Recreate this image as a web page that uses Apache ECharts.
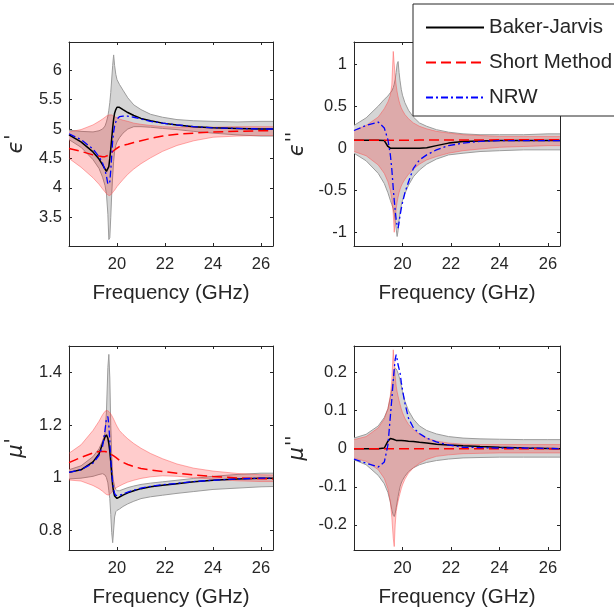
<!DOCTYPE html>
<html>
<head>
<meta charset="utf-8">
<script src="https://cdn.jsdelivr.net/npm/echarts@6/dist/echarts.min.js"></script>
<style>
  html, body { margin: 0; padding: 0; background: #fff; }
  #chart { width: 614px; height: 609px; }
</style>
</head>
<body>
<div id="chart"></div>
<script>
// frequency grid (GHz), shared by every panel
const freq = [18.0, 18.5, 19.0, 19.25, 19.4, 19.5, 19.56, 19.62, 19.66, 19.7, 19.74, 19.78, 19.82, 19.86, 19.9,
  19.95, 20.0, 20.1, 20.25, 20.45, 20.7, 21.0, 21.4, 21.9, 22.5, 23.2, 24.0, 25.0, 26.0, 26.5];

// eps' (top left)
const epsRealBJ   = [4.90, 4.78, 4.61, 4.49, 4.39, 4.32, 4.28, 4.28, 4.36, 4.50, 4.66, 4.84, 5.02, 5.17, 5.27, 5.33, 5.37, 5.37, 5.33, 5.28, 5.23, 5.18, 5.14, 5.10, 5.07, 5.04, 5.02, 5.01, 5.00, 5.00];
const epsRealBJHi = [4.98, 4.96, 4.95, 4.97, 5.00, 5.05, 5.12, 5.22, 5.32, 5.45, 5.62, 5.85, 6.08, 6.26, 6.08, 5.93, 5.84, 5.76, 5.66, 5.53, 5.41, 5.33, 5.25, 5.20, 5.16, 5.14, 5.13, 5.12, 5.13, 5.13];
const epsRealBJLo = [4.82, 4.69, 4.48, 4.33, 4.18, 4.04, 3.90, 3.55, 3.12, 3.15, 3.50, 3.90, 4.20, 4.45, 4.62, 4.72, 4.78, 4.85, 4.93, 5.00, 5.04, 5.04, 5.03, 5.01, 4.99, 4.96, 4.93, 4.90, 4.88, 4.88];
const epsRealSM   = [4.67, 4.62, 4.56, 4.54, 4.53, 4.53, 4.54, 4.55, 4.56, 4.57, 4.59, 4.60, 4.62, 4.63, 4.65, 4.66, 4.68, 4.70, 4.72, 4.74, 4.77, 4.80, 4.84, 4.88, 4.91, 4.93, 4.95, 4.96, 4.97, 4.97];
const epsRealSMHi = [4.95, 4.99, 5.07, 5.13, 5.17, 5.20, 5.22, 5.23, 5.24, 5.24, 5.24, 5.24, 5.23, 5.22, 5.21, 5.20, 5.19, 5.17, 5.15, 5.13, 5.10, 5.08, 5.06, 5.04, 5.03, 5.03, 5.03, 5.04, 5.04, 5.04];
const epsRealSMLo = [4.50, 4.35, 4.17, 4.06, 3.98, 3.93, 3.90, 3.88, 3.87, 3.87, 3.88, 3.90, 3.92, 3.94, 3.96, 3.99, 4.02, 4.07, 4.14, 4.23, 4.32, 4.41, 4.51, 4.62, 4.72, 4.80, 4.86, 4.88, 4.89, 4.89];
const epsRealNRW  = [4.92, 4.82, 4.66, 4.53, 4.42, 4.30, 4.20, 4.06, 4.03, 4.10, 4.30, 4.55, 4.80, 4.95, 5.05, 5.12, 5.17, 5.21, 5.22, 5.22, 5.20, 5.17, 5.13, 5.10, 5.07, 5.04, 5.02, 5.01, 5.00, 5.00];

// eps'' (top right)
const epsImagBJ   = [0.095, 0.095, 0.095, 0.09, 0.02, 0, 0, 0, 0, 0, 0, 0, 0, 0, 0, 0, 0, 0, 0, 0, 0, 0.005, 0.03, 0.06, 0.08, 0.085, 0.09, 0.09, 0.09, 0.09];
const epsImagBJHi = [0.27, 0.36, 0.50, 0.58, 0.62, 0.66, 0.68, 0.72, 0.76, 0.82, 0.90, 1.00, 1.03, 0.90, 0.80, 0.70, 0.63, 0.54, 0.45, 0.37, 0.30, 0.26, 0.22, 0.19, 0.17, 0.16, 0.16, 0.16, 0.17, 0.17];
const epsImagBJLo = [-0.06, -0.15, -0.30, -0.42, -0.53, -0.62, -0.67, -0.72, -0.78, -0.86, -0.96, -1.05, -0.98, -0.86, -0.76, -0.68, -0.62, -0.54, -0.44, -0.34, -0.26, -0.19, -0.13, -0.08, -0.06, -0.04, -0.03, -0.02, -0.02, -0.02];
const epsImagSM   = [0.095, 0.095, 0.095, 0.095, 0.095, 0.095, 0.095, 0.095, 0.095, 0.095, 0.095, 0.095, 0.095, 0.095, 0.095, 0.095, 0.095, 0.095, 0.095, 0.095, 0.096, 0.096, 0.097, 0.097, 0.098, 0.098, 0.099, 0.1, 0.1, 0.1];
const epsImagSMHi = [0.21, 0.27, 0.37, 0.47, 0.55, 0.63, 0.75, 1.15, 1.00, 0.85, 0.75, 0.67, 0.61, 0.56, 0.52, 0.48, 0.45, 0.40, 0.35, 0.30, 0.26, 0.23, 0.20, 0.18, 0.16, 0.15, 0.14, 0.14, 0.14, 0.14];
const epsImagSMLo = [-0.04, -0.09, -0.20, -0.30, -0.40, -0.50, -0.60, -0.78, -1.00, -0.85, -0.72, -0.64, -0.58, -0.53, -0.49, -0.45, -0.42, -0.37, -0.31, -0.25, -0.19, -0.14, -0.10, -0.06, -0.03, -0.01, 0.01, 0.02, 0.03, 0.03];
const epsImagNRW  = [0.21, 0.27, 0.31, 0.24, 0.10, -0.08, -0.25, -0.48, -0.62, -0.74, -0.85, -0.92, -0.95, -0.88, -0.80, -0.72, -0.65, -0.53, -0.40, -0.24, -0.14, -0.08, -0.02, 0.03, 0.06, 0.08, 0.09, 0.09, 0.09, 0.09];

// mu' (bottom left)
const muRealBJ   = [1.02, 1.03, 1.06, 1.09, 1.13, 1.155, 1.163, 1.15, 1.13, 1.10, 1.06, 1.01, 0.97, 0.945, 0.93, 0.924, 0.921, 0.926, 0.933, 0.942, 0.95, 0.958, 0.965, 0.971, 0.977, 0.984, 0.99, 0.995, 0.998, 0.998];
const muRealBJHi = [1.03, 1.045, 1.08, 1.11, 1.14, 1.17, 1.25, 1.42, 1.47, 1.38, 1.20, 1.08, 1.01, 0.985, 0.965, 0.955, 0.95, 0.95, 0.955, 0.962, 0.968, 0.974, 0.979, 0.984, 0.99, 0.997, 1.005, 1.012, 1.017, 1.017];
const muRealBJLo = [0.995, 0.998, 1.005, 1.012, 1.015, 1.01, 1.00, 0.98, 0.95, 0.92, 0.86, 0.79, 0.752, 0.80, 0.85, 0.87, 0.875, 0.88, 0.89, 0.90, 0.91, 0.92, 0.927, 0.933, 0.94, 0.947, 0.955, 0.96, 0.965, 0.966];
const muRealSM   = [1.057, 1.077, 1.094, 1.10, 1.10, 1.10, 1.099, 1.097, 1.095, 1.093, 1.09, 1.088, 1.086, 1.083, 1.08, 1.077, 1.073, 1.066, 1.058, 1.05, 1.042, 1.035, 1.029, 1.023, 1.017, 1.01, 1.004, 0.999, 0.996, 0.995];
const muRealSMHi = [1.093, 1.125, 1.18, 1.215, 1.24, 1.253, 1.256, 1.255, 1.252, 1.248, 1.243, 1.237, 1.23, 1.223, 1.215, 1.205, 1.196, 1.18, 1.165, 1.148, 1.13, 1.112, 1.092, 1.072, 1.052, 1.036, 1.025, 1.016, 1.011, 1.01];
const muRealSMLo = [0.991, 0.987, 0.97, 0.958, 0.948, 0.94, 0.936, 0.934, 0.934, 0.936, 0.94, 0.944, 0.948, 0.952, 0.956, 0.96, 0.963, 0.968, 0.975, 0.983, 0.99, 0.997, 1.003, 1.007, 1.005, 1.00, 0.994, 0.988, 0.985, 0.985];
const muRealNRW  = [1.02, 1.03, 1.055, 1.085, 1.12, 1.18, 1.225, 1.233, 1.20, 1.14, 1.07, 1.02, 0.98, 0.955, 0.94, 0.932, 0.93, 0.932, 0.938, 0.945, 0.952, 0.96, 0.967, 0.973, 0.978, 0.985, 0.99, 0.995, 0.998, 0.998];

// mu'' (bottom right)
const muImagBJ   = [0, 0, 0, 0.002, 0.02, 0.027, 0.027, 0.025, 0.023, 0.022, 0.022, 0.022, 0.022, 0.022, 0.022, 0.022, 0.021, 0.021, 0.02, 0.019, 0.017, 0.015, 0.012, 0.01, 0.008, 0.006, 0.004, 0.002, 0.001, 0];
const muImagBJHi = [0.028, 0.038, 0.06, 0.082, 0.105, 0.135, 0.155, 0.18, 0.205, 0.212, 0.21, 0.205, 0.198, 0.19, 0.18, 0.165, 0.15, 0.125, 0.10, 0.078, 0.06, 0.048, 0.039, 0.032, 0.028, 0.026, 0.025, 0.024, 0.024, 0.024];
const muImagBJLo = [-0.029, -0.042, -0.07, -0.092, -0.115, -0.14, -0.16, -0.175, -0.178, -0.17, -0.155, -0.14, -0.125, -0.112, -0.10, -0.09, -0.083, -0.072, -0.06, -0.05, -0.042, -0.036, -0.031, -0.027, -0.024, -0.023, -0.022, -0.022, -0.022, -0.022];
const muImagSM   = [0, 0, 0, 0, 0, 0, 0, 0, 0, 0, 0, 0, 0, 0, 0, 0, 0, 0, 0, 0, 0, 0, 0, 0, 0, 0, 0, 0, 0, 0];
const muImagSMHi = [0.024, 0.032, 0.055, 0.078, 0.105, 0.14, 0.18, 0.26, 0.225, 0.19, 0.165, 0.15, 0.138, 0.127, 0.117, 0.105, 0.095, 0.08, 0.064, 0.05, 0.038, 0.028, 0.02, 0.015, 0.012, 0.011, 0.011, 0.011, 0.011, 0.011];
const muImagSMLo = [-0.025, -0.033, -0.055, -0.078, -0.105, -0.14, -0.18, -0.235, -0.257, -0.20, -0.165, -0.15, -0.138, -0.127, -0.117, -0.105, -0.095, -0.08, -0.064, -0.05, -0.038, -0.028, -0.02, -0.016, -0.013, -0.012, -0.011, -0.011, -0.011, -0.011];
const muImagNRW  = [-0.027, -0.038, -0.048, -0.035, 0.01, 0.085, 0.13, 0.18, 0.21, 0.235, 0.247, 0.235, 0.22, 0.21, 0.20, 0.175, 0.155, 0.12, 0.08, 0.055, 0.04, 0.028, 0.018, 0.01, 0.004, 0.003, 0.002, 0.002, 0.001, 0];

const xTicks = [20, 22, 24, 26];
const legendNames = ['Baker-Jarvis', 'Short Method', 'NRW'];

const AX = '#262626';
const FONT = 'Liberation Sans';

const panels = [
  { grid: { left: 69, top: 42, width: 204, height: 204 }, yMin: 3.01, yMax: 6.48, label: '{e|ϵ}{p|\'}', gap: 40,
    bj: epsRealBJ, bjHi: epsRealBJHi, bjLo: epsRealBJLo, sm: epsRealSM, smHi: epsRealSMHi, smLo: epsRealSMLo, nrw: epsRealNRW },
  { grid: { left: 354, top: 42, width: 206, height: 204 }, yMin: -1.163, yMax: 1.262, label: '{e|ϵ}{p|\'\'}', gap: 44,
    bj: epsImagBJ, bjHi: epsImagBJHi, bjLo: epsImagBJLo, sm: epsImagSM, smHi: epsImagSMHi, smLo: epsImagSMLo, nrw: epsImagNRW },
  { grid: { left: 69, top: 346, width: 204, height: 204 }, yMin: 0.724, yMax: 1.502, label: '{e|μ}{p|\'}', gap: 40,
    bj: muRealBJ, bjHi: muRealBJHi, bjLo: muRealBJLo, sm: muRealSM, smHi: muRealSMHi, smLo: muRealSMLo, nrw: muRealNRW },
  { grid: { left: 354, top: 346, width: 206, height: 204 }, yMin: -0.266, yMax: 0.27, label: '{e|μ}{p|\'\'}', gap: 44,
    bj: muImagBJ, bjHi: muImagBJHi, bjLo: muImagBJLo, sm: muImagSM, smHi: muImagSMHi, smLo: muImagSMLo, nrw: muImagNRW }
];

function pairs(ys) { return freq.map((f, i) => [f, ys[i]]); }

// shaded uncertainty band between lo and hi, drawn through the axis scales
function band(i, lo, hi, fill, edge) {
  return {
    type: 'custom', xAxisIndex: 2 * i, yAxisIndex: 2 * i, silent: true, clip: true,
    data: [[freq[0], lo[0]]],
    renderItem: function (params, api) {
      const top = freq.map((f, k) => api.coord([f, hi[k]]));
      const bot = freq.map((f, k) => api.coord([f, lo[k]]));
      return {
        type: 'group',
        children: [
          { type: 'polygon', shape: { points: top.concat(bot.slice().reverse()) }, style: { fill: fill, stroke: null } },
          { type: 'polyline', shape: { points: top }, style: { stroke: edge, lineWidth: 1, fill: null } },
          { type: 'polyline', shape: { points: bot }, style: { stroke: edge, lineWidth: 1, fill: null } }
        ]
      };
    }
  };
}

const grids = [], xAxes = [], yAxes = [], series = [];

panels.forEach((p, i) => {
  grids.push(p.grid);
  const line = { onZero: false, lineStyle: { color: AX, width: 1 } };
  const tick = { inside: true, length: 3, lineStyle: { color: AX } };
  xAxes.push({
    gridIndex: i, type: 'value', min: 18, max: 26.5, interval: 2, position: 'bottom',
    axisLine: line, axisTick: tick, splitLine: { show: false },
    axisLabel: { color: AX, fontSize: 16.5, fontFamily: FONT, margin: 10, showMinLabel: false, showMaxLabel: false,
      formatter: v => (xTicks.indexOf(v) >= 0 ? String(v) : '') },
    name: 'Frequency (GHz)', nameLocation: 'middle', nameGap: 37,
    nameTextStyle: { color: AX, fontSize: 20.5, fontFamily: FONT }
  });
  xAxes.push({
    gridIndex: i, type: 'value', min: 18, max: 26.5, interval: 2, position: 'top',
    axisLine: line, axisTick: tick, axisLabel: { show: false }, splitLine: { show: false }
  });
  yAxes.push({
    gridIndex: i, type: 'value', min: p.yMin, max: p.yMax, position: 'left',
    axisLine: line, axisTick: tick, splitLine: { show: false },
    axisLabel: { color: AX, fontSize: 16.5, fontFamily: FONT, margin: 7, showMinLabel: false, showMaxLabel: false },
    name: p.label, nameLocation: 'middle', nameRotate: 90, nameGap: p.gap,
    nameTextStyle: { color: AX, rich: {
      e: { fontSize: 21, fontStyle: 'italic', fontFamily: 'DejaVu Sans', color: AX },
      p: { fontSize: 19, fontFamily: 'DejaVu Sans', color: AX, padding: [0, 0, 6, 1] }
    } }
  });
  yAxes.push({
    gridIndex: i, type: 'value', min: p.yMin, max: p.yMax, position: 'right',
    axisLine: line, axisTick: tick, axisLabel: { show: false }, splitLine: { show: false }
  });

  const ax = { xAxisIndex: 2 * i, yAxisIndex: 2 * i };
  // Baker-Jarvis uncertainty (gray), Short method uncertainty (translucent red)
  series.push(band(i, p.bjLo, p.bjHi, '#d5d5d5', '#9c9c9c'));
  series.push(band(i, p.smLo, p.smHi, 'rgba(255,0,0,0.2)', 'rgba(255,70,70,0.45)'));

  series.push(Object.assign({}, ax, { type: 'line', symbol: 'none', name: legendNames[0], data: pairs(p.bj),
    itemStyle: { color: '#000' }, lineStyle: { color: '#000', width: 1.5 } }));
  series.push(Object.assign({}, ax, { type: 'line', symbol: 'none', name: legendNames[1], data: pairs(p.sm),
    itemStyle: { color: '#ff0000' }, lineStyle: { color: '#ff0000', width: 1.5, type: [10, 5] } }));
  series.push(Object.assign({}, ax, { type: 'line', symbol: 'none', name: legendNames[2], data: pairs(p.nrw),
    itemStyle: { color: '#0000ff' }, lineStyle: { color: '#0000ff', width: 1.3, type: [7, 3, 2, 3] } }));
});

const chart = echarts.init(document.getElementById('chart'));
chart.setOption({
  animation: false,
  backgroundColor: '#fff',
  grid: grids,
  xAxis: xAxes,
  yAxis: yAxes,
  legend: {
    data: legendNames, orient: 'vertical', left: 413, top: 4,
    itemWidth: 58, itemHeight: 20, itemGap: 14, padding: [13, 12, 8, 12],
    backgroundColor: '#fff', borderColor: AX, borderWidth: 1, borderRadius: 0,
    itemStyle: { opacity: 0 },
    textStyle: { color: AX, fontSize: 20.5, fontFamily: FONT }
  },
  series: series
});
</script>
</body>
</html>
